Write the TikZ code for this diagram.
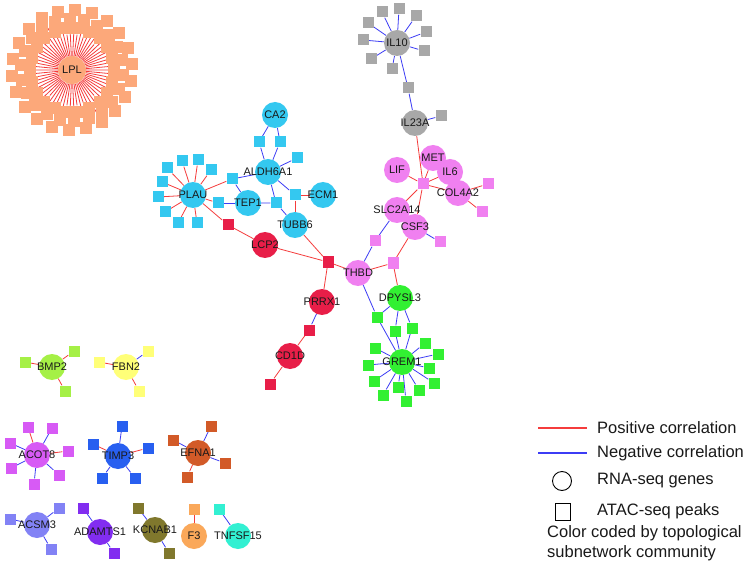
\documentclass[tikz,border=0pt]{standalone}
\usepackage{fontspec}
\setmainfont{Liberation Sans}
\usetikzlibrary{positioning}
\pgfdeclarelayer{bg}
\pgfsetlayers{bg,main}

\definecolor{lplc}{RGB}{252,168,122}
\definecolor{cyanc}{RGB}{52,200,240}
\definecolor{redc}{RGB}{232,30,72}
\definecolor{magc}{RGB}{240,128,240}
\definecolor{grnc}{RGB}{50,240,50}
\definecolor{grayc}{RGB}{168,168,168}
\definecolor{bmpc}{RGB}{165,240,70}
\definecolor{fbnc}{RGB}{255,255,120}
\definecolor{acotc}{RGB}{215,90,245}
\definecolor{timpc}{RGB}{40,95,240}
\definecolor{efnac}{RGB}{210,90,40}
\definecolor{acsmc}{RGB}{130,130,245}
\definecolor{adamc}{RGB}{130,45,240}
\definecolor{kcnc}{RGB}{128,120,45}
\definecolor{fthreec}{RGB}{250,168,90}
\definecolor{tnfc}{RGB}{50,240,210}
\definecolor{posc}{RGB}{245,60,60}
\definecolor{negc}{RGB}{60,60,245}

\begin{document}
\begin{tikzpicture}[x=1pt,y=-1pt,
  gene/.style={circle,minimum size=26pt,inner sep=0pt,fill=#1},
  pk/.style={rectangle,minimum size=11pt,inner sep=0pt,fill=#1},
  posedge/.style={draw=posc,line width=0.8pt},
  negedge/.style={draw=negc,line width=0.8pt},
  every label/.style={font=\fontsize{11}{12}\selectfont,text=black!90,inner sep=0pt},
  legend/.style={font=\fontsize{16.5}{20}\selectfont,anchor=west,inner sep=0pt,text=black!90}]
  \begin{pgfonlayer}{bg}
    \fill[white] (0,0) rectangle (749,569);
  \end{pgfonlayer}

  % LPL community
  \node[gene=lplc,minimum size=28pt,label=center:LPL] (lpl) at (72,70) {};
  \foreach \i in {1,...,66} {
    \pgfmathsetmacro\rad{42+9*mod(\i,3)}
    \pgfmathsetmacro\ang{\i*5.4545}
    \node[pk=lplc,minimum size=12pt] (lp\i) at ({72+\rad*cos(\ang)},{70+\rad*sin(\ang)}) {};
    \begin{pgfonlayer}{bg}\draw[posedge] (lpl) -- (lp\i);\end{pgfonlayer}
  }

  % IL10 / IL23A
  \node[gene=grayc,label=center:IL10] (il10) at (397,43) {};
  \node[gene=grayc,label=center:IL23A] (il23a) at (415,123) {};
  \foreach \x/\y [count=\i] in {382/12,399/9,416/16,426/32,424/51,392/69,371/59,363/40,368/23} {
    \node[pk=grayc] (ik\i) at (\x,\y) {};
    \begin{pgfonlayer}{bg}\draw[negedge] (il10) -- (ik\i);\end{pgfonlayer}
  }
  \node[pk=grayc] (a1) at (408,88) {};
  \node[pk=grayc] (a2) at (441,116) {};

  % magenta community
  \node[gene=magc,label=center:MET] (met) at (433,158) {};
  \node[gene=magc,label=center:IL6] (il6) at (450,172) {};
  \node[gene=magc,label=center:LIF] (lif) at (397,170) {};
  \node[gene=magc,label=center:COL4A2] (col4a2) at (458,193) {};
  \node[gene=magc,label=center:SLC2A14] (slc) at (397,210) {};
  \node[gene=magc,label=center:CSF3] (csf3) at (415,227) {};
  \node[gene=magc,label=center:THBD] (thbd) at (358,273) {};
  \node[pk=magc] (m1) at (423,184) {};
  \node[pk=magc] (m2) at (488,184) {};
  \node[pk=magc] (m3) at (482,212) {};
  \node[pk=magc] (m4) at (440,242) {};
  \node[pk=magc] (m5) at (375,241) {};
  \node[pk=magc] (m6) at (393,263) {};

  % cyan community
  \node[gene=cyanc,label=center:CA2] (ca2) at (275,115) {};
  \node[gene=cyanc,label=center:ALDH6A1] (aldh) at (268,172) {};
  \node[gene=cyanc,label=center:PLAU] (plau) at (193,195) {};
  \node[gene=cyanc,label=center:TEP1] (tep1) at (248,203) {};
  \node[gene=cyanc,label=center:ECM1] (ecm1) at (323,195) {};
  \node[gene=cyanc,label=center:TUBB6] (tubb6) at (295,225) {};
  \node[pk=cyanc] (c1) at (259,142) {};
  \node[pk=cyanc] (c2) at (280,142) {};
  \node[pk=cyanc] (c3) at (297,158) {};
  \node[pk=cyanc] (c4) at (232,179) {};
  \node[pk=cyanc] (c5) at (218,203) {};
  \node[pk=cyanc] (c6) at (276,203) {};
  \node[pk=cyanc] (c7) at (295,195) {};
  \foreach \x/\y [count=\i] in {182/161,198/160,211/170,167/168,162/182,158/197,165/212,178/223,197/223} {
    \node[pk=cyanc] (pl\i) at (\x,\y) {};
    \begin{pgfonlayer}{bg}\draw[posedge] (plau) -- (pl\i);\end{pgfonlayer}
  }

  % red community
  \node[gene=redc,label=center:LCP2] (lcp2) at (265,245) {};
  \node[gene=redc,label=center:PRRX1] (prrx1) at (322,302) {};
  \node[gene=redc,label=center:CD1D] (cd1d) at (290,356) {};
  \node[pk=redc] (k1) at (228,225) {};
  \node[pk=redc] (k2) at (328,262) {};
  \node[pk=redc] (k3) at (309,330) {};
  \node[pk=redc] (k4) at (270,384) {};

  % green community
  \node[gene=grnc,label=center:DPYSL3] (dpysl3) at (400,298) {};
  \node[gene=grnc,label=center:GREM1] (grem1) at (402,362) {};
  \node[pk=grnc] (g1) at (377,317) {};
  \node[pk=grnc] (g2) at (395,331) {};
  \node[pk=grnc] (g3) at (412,328) {};
  \foreach \x/\y [count=\i] in {375/348,368/365,374/381,383/395,398/387,406/401,419/390,434/383,429/368,438/354,425/343} {
    \node[pk=grnc] (gr\i) at (\x,\y) {};
    \begin{pgfonlayer}{bg}\draw[negedge] (grem1) -- (gr\i);\end{pgfonlayer}
  }

  % small communities
  \node[gene=bmpc,label=center:BMP2] (bmp2) at (52,367) {};
  \foreach \x/\y/\e [count=\i] in {25/362/posedge,74/351/posedge,65/391/posedge} {
    \node[pk=bmpc] (bm\i) at (\x,\y) {};
    \begin{pgfonlayer}{bg}\draw[\e] (bmp2) -- (bm\i);\end{pgfonlayer}
  }
  \node[gene=fbnc,label=center:FBN2] (fbn2) at (126,367) {};
  \foreach \x/\y/\e [count=\i] in {99/362/posedge,148/351/negedge,139/391/posedge} {
    \node[pk=fbnc] (fb\i) at (\x,\y) {};
    \begin{pgfonlayer}{bg}\draw[\e] (fbn2) -- (fb\i);\end{pgfonlayer}
  }
  \node[gene=acotc,label=center:ACOT8] (acot8) at (37,455) {};
  \foreach \x/\y/\e [count=\i] in {28/427/posedge,52/428/negedge,68/451/posedge,59/475/negedge,34/484/negedge,11/468/negedge,10/443/negedge} {
    \node[pk=acotc] (ac\i) at (\x,\y) {};
    \begin{pgfonlayer}{bg}\draw[\e] (acot8) -- (ac\i);\end{pgfonlayer}
  }
  \node[gene=timpc,label=center:TIMP3] (timp3) at (118,456) {};
  \foreach \x/\y/\e [count=\i] in {122/426/negedge,148/448/posedge,135/478/negedge,102/478/negedge,93/444/posedge} {
    \node[pk=timpc] (tm\i) at (\x,\y) {};
    \begin{pgfonlayer}{bg}\draw[\e] (timp3) -- (tm\i);\end{pgfonlayer}
  }
  \node[gene=efnac,label=center:EFNA1] (efna1) at (198,453) {};
  \foreach \x/\y/\e [count=\i] in {211/426/negedge,173/440/negedge,225/463/negedge,187/477/posedge} {
    \node[pk=efnac] (ef\i) at (\x,\y) {};
    \begin{pgfonlayer}{bg}\draw[\e] (efna1) -- (ef\i);\end{pgfonlayer}
  }
  \node[gene=acsmc,label=center:ACSM3] (acsm3) at (37,525) {};
  \foreach \x/\y [count=\i] in {59/508,10/519,51/549} {
    \node[pk=acsmc] (as\i) at (\x,\y) {};
    \begin{pgfonlayer}{bg}\draw[negedge] (acsm3) -- (as\i);\end{pgfonlayer}
  }
  \node[gene=adamc,label=center:ADAMTS1] (adamts1) at (100,532) {};
  \foreach \x/\y [count=\i] in {83/508,114/553} {
    \node[pk=adamc] (ad\i) at (\x,\y) {};
    \begin{pgfonlayer}{bg}\draw[negedge] (adamts1) -- (ad\i);\end{pgfonlayer}
  }
  \node[gene=kcnc,label=center:KCNAB1] (kcnab1) at (155,530) {};
  \foreach \x/\y [count=\i] in {138/508,169/553} {
    \node[pk=kcnc] (kc\i) at (\x,\y) {};
    \begin{pgfonlayer}{bg}\draw[negedge] (kcnab1) -- (kc\i);\end{pgfonlayer}
  }
  \node[gene=fthreec,label=center:F3] (f3) at (194,536) {};
  \node[pk=fthreec] (f3p) at (194,509) {};
  \node[gene=tnfc,label=center:TNFSF15] (tnfsf15) at (238,536) {};
  \node[pk=tnfc] (tnp) at (219,509) {};

  % connectors
  \begin{pgfonlayer}{bg}
    \draw[negedge] (il10) -- (a1) -- (il23a);
    \draw[negedge] (il23a) -- (a2);
    \draw[posedge] (il23a) -- (m1);
    \foreach \g in {met,il6,lif,col4a2,slc,csf3} \draw[posedge] (m1) -- (\g);
    \draw[posedge] (col4a2) -- (m2);
    \draw[posedge] (col4a2) -- (m3);
    \draw[negedge] (csf3) -- (m4);
    \draw[negedge] (slc) -- (m5) -- (thbd);
    \draw[posedge] (thbd) -- (m6) -- (csf3);
    \draw[posedge] (m6) -- (dpysl3);
    \draw[negedge] (ca2) -- (c1) -- (aldh);
    \draw[negedge] (ca2) -- (c2) -- (aldh);
    \draw[negedge] (aldh) -- (c3);
    \draw[posedge] (plau) -- (c4);
    \draw[negedge] (c4) -- (aldh);
    \draw[negedge] (c4) -- (tep1);
    \draw[posedge] (plau) -- (c5);
    \draw[negedge] (c5) -- (tep1);
    \draw[negedge] (tep1) -- (c6) -- (aldh);
    \draw[negedge] (c6) -- (tubb6);
    \draw[negedge] (aldh) -- (c7);
    \draw[posedge] (c7) -- (ecm1);
    \draw[posedge] (c7) -- (tubb6);
    \draw[posedge] (plau) -- (k1) -- (lcp2) -- (k2);
    \draw[posedge] (tubb6) -- (k2) -- (thbd);
    \draw[posedge] (k2) -- (prrx1);
    \draw[negedge] (prrx1) -- (k3);
    \draw[posedge] (k3) -- (cd1d) -- (k4);
    \draw[negedge] (thbd) -- (g1) -- (grem1);
    \draw[negedge] (g1) -- (dpysl3);
    \draw[negedge] (dpysl3) -- (g2) -- (grem1);
    \draw[negedge] (dpysl3) -- (g3) -- (grem1);
    \draw[posedge] (f3) -- (f3p);
    \draw[negedge] (tnfsf15) -- (tnp);
  \end{pgfonlayer}

  % legend
  \coordinate (lr1) at (538,428);
  \coordinate (lr2) at (587,428);
  \coordinate (lb1) at (538,453);
  \coordinate (lb2) at (587,453);
  \draw[posc,line width=1.2pt] (lr1) -- (lr2);
  \draw[negc,line width=1.2pt] (lb1) -- (lb2);
  \node[legend] (tpos) at (597,428) {Positive correlation};
  \node[legend] (tneg) at (597,453) {Negative correlation};
  \node[circle,draw,line width=0.9pt,minimum size=19pt,inner sep=0pt] (lgc) at (562,481) {};
  \node[legend] (trna) at (597,481) {RNA-seq genes};
  \node[draw,line width=0.9pt,minimum width=15pt,minimum height=17pt,inner sep=0pt] (lgs) at (563,512) {};
  \node[legend] (tatac) at (597,511) {ATAC-seq peaks};
  \node[legend,align=left,anchor=north west] (tcol) at (547,525) {Color coded by topological\\subnetwork community};
\end{tikzpicture}
\end{document}
